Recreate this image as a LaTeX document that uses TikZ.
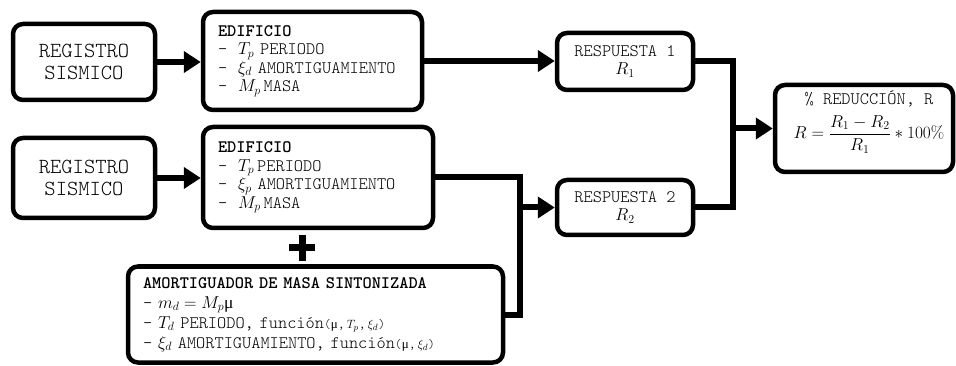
\documentclass[tikz,border=0pt]{standalone}
\usepackage[no-math]{fontspec}
\setmainfont{Latin Modern Mono Light}
\newfontfamily\gkfont{Liberation Serif}
\usepackage{amsmath}
\usetikzlibrary{arrows.meta}
\begin{document}
\begin{tikzpicture}[x=1pt,y=-1pt,
  box/.style={draw, line width=4.5pt, rounded corners=10pt, inner sep=0pt,
    font=\fontsize{17.5}{18.5}\selectfont},
  lbox/.style={box, align=left, inner xsep=15pt},
  cbox/.style={box, align=center},
  big/.style={font=\fontsize{21.5}{21.5}\selectfont},
  conn/.style={line width=6pt},
  arr/.style={conn, -{Triangle[length=17pt,width=21pt]}}]
\useasboundingbox (0,0) rectangle (956,366);
\newcommand{\dd}{\makebox[20pt][l]{-}}
\newcommand{\mug}{{\gkfont μ}}
\newcommand{\smf}[1]{{\fontsize{13}{13}\selectfont #1}}
% left column
\node[cbox, big, minimum width=142pt, minimum height=76pt] (reg1) at (84,62) {REGISTRO\\SISMICO};
\node[cbox, big, minimum width=142pt, minimum height=80pt] (reg2) at (84,178) {REGISTRO\\SISMICO};
% buildings
\node[lbox, text width=189pt, minimum height=98pt] (edif1) at (312.5,61)
  {\textbf{EDIFICIO}\\\dd$T_p$ PERIODO\\\dd$\xi_d$ AMORTIGUAMIENTO\\\dd$M_p$\,MASA};
\node[lbox, text width=200pt, minimum height=101pt] (edif2) at (318,177.5)
  {\textbf{EDIFICIO}\\\dd$T_p$\,PERIODO\\\dd$\xi_p$ AMORTIGUAMIENTO\\\dd$M_p$\,MASA};
% TMD
\node[lbox, text width=345pt, minimum height=96pt, font=\fontsize{17.5}{20}\selectfont] (amort) at (315.5,314.5)
  {\textbf{AMORTIGUADOR DE MASA SINTONIZADA}\\
   - $m_d = M_p$\mug\\
   - $T_d$ PERIODO, función\smf{(\mug,\,$T_p$,\,$\xi_d$)}\\
   - $\xi_d$ AMORTIGUAMIENTO, función\smf{(\mug,\,$\xi_d$)}};
% plus sign
\draw[line width=7pt] (302,235) -- (302,261) (289,248) -- (315,248);
% responses
\node[cbox, minimum width=136pt, minimum height=57pt] (r1) at (625,61.5) {RESPUESTA 1\\$R_1$};
\node[cbox, minimum width=136pt, minimum height=55pt] (r2) at (625,207.5) {RESPUESTA 2\\$R_2$};
% reduction
\node[box, minimum width=178pt, minimum height=87pt] (red) at (864,128.5) {};
\node[align=center, inner sep=0pt, font=\fontsize{17.5}{18}\selectfont] (redtxt) at (869,122)
  {\% REDUCCIÓN, R\\[7pt]$R=\dfrac{R_1-R_2}{R_1}*100\%$};
% junctions
\coordinate (j2) at (520,207.5);
\coordinate (j1) at (733,128.5);
% connectors
\draw[arr] (reg1.east) -- (reg1.east -| edif1.west);
\draw[arr] (reg2.east) -- (reg2.east -| edif2.west);
\draw[arr] (edif1.east) -- (edif1.east -| r1.west);
\draw[conn] (edif2.east) -- (edif2.east -| j2) -- (amort.east -| j2) -- (amort.east);
\draw[arr] (j2) -- (r2.west);
\draw[conn] (r1.east) -- (r1.east -| j1) -- (r2.east -| j1) -- (r2.east);
\draw[arr] (j1) -- (red.west);
\end{tikzpicture}
\end{document}
